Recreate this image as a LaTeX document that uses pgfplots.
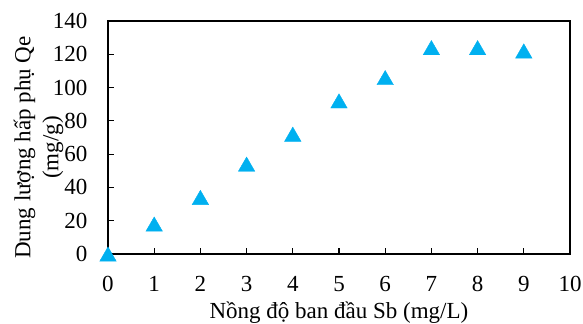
\documentclass[border=0pt]{standalone}
\usepackage{fontspec}
\setmainfont{Liberation Serif}
\usepackage{pgfplots}
\pgfplotsset{compat=1.18}
\usetikzlibrary{calc}
\definecolor{mk}{HTML}{00B0F0}
\begin{document}
\begin{tikzpicture}
\begin{axis}[
  name=ax,
  width=462bp, height=233bp, scale only axis,
  xmin=0, xmax=10, ymin=0, ymax=140,
  xtick={0,1,...,10}, ytick={0,20,...,140},
  xtick pos=bottom, ytick pos=left,
  tick align=inside, major tick length=6bp,
  axis line style={line width=1.4bp, black},
  every tick/.style={line width=1.2bp, black},
  font=\fontsize{23bp}{28bp}\selectfont,
  /pgf/number format/assume math mode=true,
  yticklabel style={xshift=-17bp},
  xticklabel style={yshift=-19bp},
  xlabel={Nồng độ ban đầu Sb (mg/L)},
  xlabel style={yshift=-3bp},
  ylabel={Dung lượng hấp phụ Qe\\(mg/g)},
  ylabel style={align=center, at={(rel axis cs:0,0.5)}, anchor=center, yshift=69.5bp, xshift=-10bp},
  clip=false,
]
\addplot[only marks, mark=triangle*, mark size=9.5bp, mark options={fill=mk, draw=mk, yshift=-2.4bp}]
coordinates {(0,0) (1,18) (2,34) (3,54) (4,72) (5,92) (6,106) (7,124) (8,124) (9,122)};
\end{axis}
\pgfresetboundingbox
\path ($(ax.south west)+(-108bp,-70bp)$) rectangle ($(ax.north east)+(13bp,21bp)$);
\end{tikzpicture}
\end{document}
